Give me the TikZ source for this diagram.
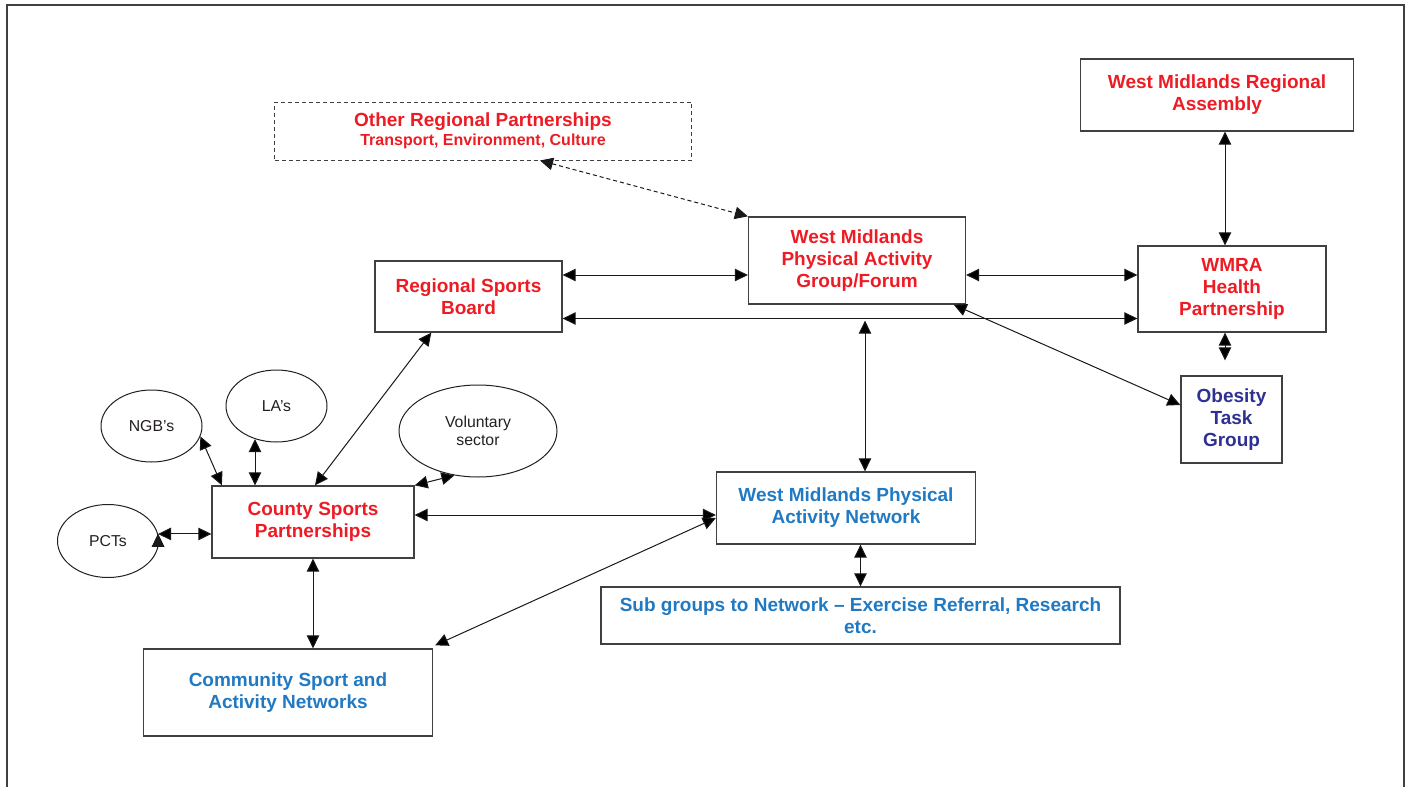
\documentclass[tikz,border=0pt]{standalone}
\usepackage{fontspec}
\setmainfont{Liberation Sans}
\usetikzlibrary{arrows.meta,shapes.geometric}
\definecolor{partred}{HTML}{ED1C24}
\definecolor{netblue}{HTML}{2179C2}
\definecolor{taskblue}{HTML}{2E3192}
\definecolor{linegray}{HTML}{404040}
\definecolor{textgray}{HTML}{231F20}
\begin{document}
\begin{tikzpicture}[x=1pt, y=-1pt,
		main/.style={draw=linegray, line width=1.3pt, align=center, inner sep=0pt, font=\bfseries\fontsize{19}{22}\selectfont},
		group/.style={draw=textgray, line width=1pt, ellipse, align=center, inner sep=0pt, text=textgray, font=\fontsize{15.8}{18}\selectfont},
		link/.style={draw=black!90, line width=1pt, {Triangle[length=13pt,width=12.5pt]}-{Triangle[length=13pt,width=12.5pt]}}]
		\useasboundingbox (0,0) rectangle (1413,787);
		\draw[linegray, line width=1.5pt] (7,787) -- (7,5) -- (1404,5) -- (1404,787);

		\node[main, dashed, line width=1pt, dash pattern=on 4pt off 3pt, minimum width=417pt, minimum height=58pt, text=partred] (other) at (483,131) {Other Regional Partnerships\\[-3pt]{\fontsize{16}{18}\selectfont Transport, Environment, Culture}};
		\node[main, minimum width=273pt, minimum height=72pt, text=partred] (assembly) at (1217,95) {West Midlands Regional\\Assembly};
		\node[main, minimum width=217pt, minimum height=87pt, text=partred] (forum) at (857,260.5) {West Midlands\\Physical Activity\\Group/Forum};
		\node[main, minimum width=187pt, minimum height=71pt, text=partred] (board) at (468.5,296.5) {Regional Sports\\Board};
		\node[main, minimum width=188pt, minimum height=86pt, text=partred] (health) at (1232,289) {WMRA\\Health\\Partnership};
		\node[main, minimum width=101pt, minimum height=87pt, text=taskblue] (obesity) at (1231.5,419.5) {Obesity\\Task\\Group};
		\node[main, minimum width=202pt, minimum height=72pt, text=partred] (county) at (313,522) {County Sports\\Partnerships};
		\node[main, minimum width=259pt, minimum height=72pt, text=netblue] (network) at (846,508) {West Midlands Physical\\Activity Network};
		\node[main, minimum width=519pt, minimum height=57pt, text=netblue] (subgroups) at (860.5,615.5) {Sub groups to Network -- Exercise Referral, Research\\etc.};
		\node[main, minimum width=289pt, minimum height=87pt, text=netblue] (community) at (288,692.5) {Community Sport and\\Activity Networks};

		\node[group, minimum width=101pt, minimum height=72pt] (ngb) at (151.5,426) {NGB's};
		\node[group, minimum width=101pt, minimum height=72pt] (la) at (276.5,406) {LA's};
		\node[group, minimum width=158pt, minimum height=92pt] (voluntary) at (478,431) {Voluntary\\sector};
		\node[group, minimum width=101pt, minimum height=73pt] (pct) at (108,541) {PCTs};

		\path [link]
			([yshift=21.5pt]board.east) edge ([yshift=-14.5pt]forum.west)
			([yshift=-22pt]board.east) edge ([yshift=-29.5pt]health.west)
			([yshift=-14.5pt]forum.east) edge ([yshift=14pt]health.west)
			([xshift=8pt]assembly.south) edge ([xshift=-7pt]health.north)
			([xshift=-7pt]health.south) edge ([xshift=-6.5pt,yshift=15pt]obesity.north)
			([xshift=-12.5pt]forum.south east) edge ([yshift=14.5pt]obesity.west)
			([xshift=8pt,yshift=-16pt]forum.south) edge ([xshift=19pt]network.north)
			([xshift=57pt]board.south west) edge ([xshift=2pt]county.north)
			([yshift=7pt]county.east) edge ([yshift=-7pt]network.west)
			([xshift=2pt,yshift=3pt]community.north east) edge ([yshift=-10pt]network.west)
			(county.south) edge (county.south |- community.north)
			(subgroups.north |- network.south) edge (subgroups.north)
			(ngb.-12) edge ([xshift=10.5pt]county.north west)
			(la.-123) edge (la.-123 |- county.north)
			(voluntary.-118) edge (county.north east)
			(pct.8) edge (pct.8 -| county.west);

		\draw [link, dashed, dash pattern=on 4pt off 3pt] ([xshift=57pt]other.south) -- (forum.north west);
	\end{tikzpicture}
\end{document}
